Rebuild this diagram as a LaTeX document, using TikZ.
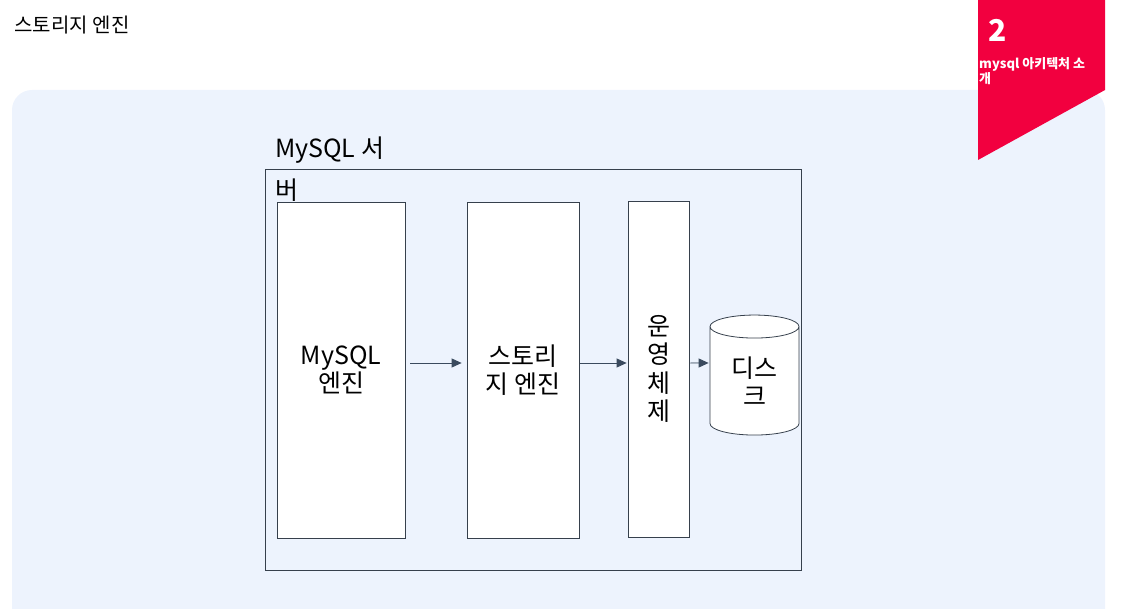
\documentclass[tikz,border=0pt]{standalone}
\usepackage{fontspec}
\setmainfont{Noto Sans CJK KR}
\usetikzlibrary{shapes.geometric, arrows.meta}
\definecolor{panelblue}{HTML}{EDF3FD}
\definecolor{badgered}{HTML}{F2003F}
\definecolor{edgegray}{HTML}{36404C}
\definecolor{arrowslate}{HTML}{3A4A5E}

\begin{document}
\begin{tikzpicture}[x=1pt,y=-1pt,
    box/.style={draw=edgegray, fill=white, line width=0.8pt, inner sep=0pt, align=center,
      font=\fontsize{25}{27.5}\selectfont},
    flow/.style={-{Triangle[length=10pt,width=9pt]}, draw=arrowslate, fill=arrowslate, line width=0.8pt}]
    \useasboundingbox (0,0) rectangle (1129,609);
    % background
    \fill[panelblue, rounded corners=20pt] (12,90) rectangle (1105,650);
    \node[anchor=west, font=\fontsize{20}{24}\selectfont] (title) at (11,25) {스토리지 엔진};
    % badge
    \fill[badgered] (978,0) -- (1105,0) -- (1105,90) -- (978,160) -- cycle;
    \node[anchor=west, text=white, font=\bfseries\fontsize{30}{30}\selectfont] (num) at (985,30) {2};
    \node[anchor=north west, align=left, inner sep=0pt, text=white, font=\bfseries\fontsize{13}{11.5}\selectfont] (badgetext) at (979,57) {mysql 아키텍처 소\\개};
    % server and parts
    \node[box, fill=none, minimum width=536pt, minimum height=401pt] (server) at (533,369.5) {};
    \node[box, minimum width=128pt, minimum height=336pt] (mysql) at (341,370) {MySQL\\엔진};
    \node[box, minimum width=112pt, minimum height=336pt] (storage) at (523,370) {스토리\\지 엔진};
    \node[box, minimum width=61pt, minimum height=336pt, font=\fontsize{25}{28.5}\selectfont] (os) at (658.5,369) {운\\영\\체\\제};
    \node[box, shape=cylinder, shape border rotate=90, aspect=0.5, minimum width=89pt, minimum height=120pt] (disk) at (754.5,381) {디스\\크};
    \node[anchor=north west, align=left, inner sep=0pt, font=\fontsize{25}{42}\selectfont] (serverlabel) at (275,137) {MySQL 서\\버};
    % arrows
    \draw[flow, shorten <=5pt, shorten >=5pt] ([yshift=7pt]mysql.east) -- ([yshift=7pt]storage.west);
    \draw[flow, shorten <=1pt, shorten >=1pt] ([yshift=7pt]storage.east) -- ([yshift=6pt]os.west);
    \draw[flow, shorten <=1pt, shorten >=1pt] ([yshift=6pt]os.east) -- ([yshift=18pt]disk.west);
\end{tikzpicture}
\end{document}
